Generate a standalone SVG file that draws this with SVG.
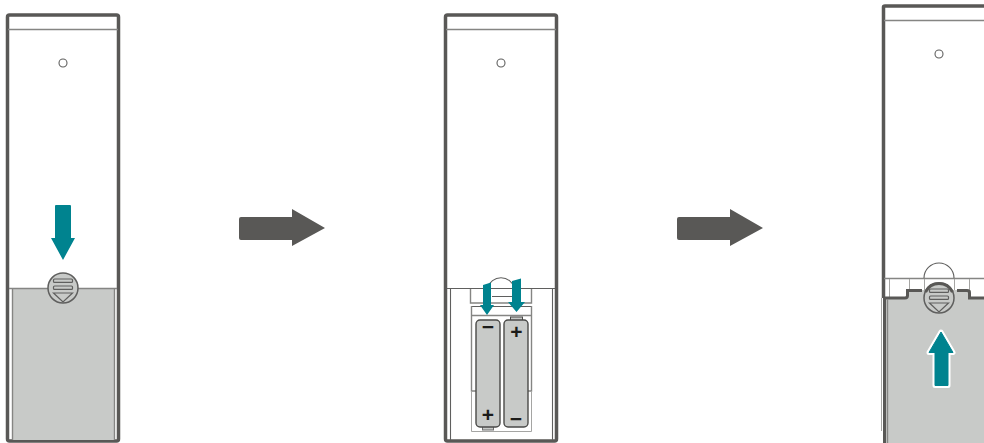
<svg xmlns="http://www.w3.org/2000/svg" width="984" height="443" viewBox="0 0 984 443">
<style>
.wall{fill:none;stroke:#595856;stroke-width:3.500;stroke-linejoin:round}
.thin{fill:none;stroke:#5f5f5e;stroke-width:1.100}
.mid{fill:none;stroke:#858583;stroke-width:1.400}
.light{fill:none;stroke:#a5a5a3;stroke-width:1}
.cover{fill:#c8cac8}
.teal{fill:#00838f}
.bat{fill:#c8cac8;stroke:#4a4a48;stroke-width:1.400}
.sign{font-family:"Liberation Sans",Arial,sans-serif;font-size:21px;font-weight:bold;fill:#1c1c1a;text-anchor:middle}
.big{fill:#595856}
.glyph{fill:none;stroke:#5f5f5e;stroke-width:1.200}
</style>
<defs>
<g id="knob">
<circle cx="0" cy="0" r="15" fill="#c8cac8" stroke="#5f5f5e" stroke-width="1.500"/>
<rect class="glyph" x="-9.500" y="-9" width="19" height="3.400" rx="1"/>
<rect class="glyph" x="-9.500" y="-2" width="19" height="3.400" rx="1"/>
<path class="glyph" d="M-9.500 5H9.500L0 14Z"/>
</g>
<path id="bigarrow" class="big" d="M241 217H292V209L325 228L292 246V240H241Q239 240 239 238V219Q239 217 241 217Z"/>
</defs>
<g id="remote-1">
<rect class="wall" x="7.500" y="15" width="111" height="426" rx="2"/>
<path class="mid" d="M8 29.500H118"/>
<circle class="thin" cx="63" cy="63" r="4"/>
<rect class="cover" x="12" y="288" width="103" height="152"/>
<path class="mid" d="M9 288.500H117M12.500 288V440M114.500 288V440"/>
<use href="#knob" x="63" y="288"/>
<path class="teal" d="M56 205H70Q71 205 71 206V238H75L63 260L51 238H55V206Q55 205 56 205Z"/>
</g>
<g id="remote-2">
<rect class="wall" x="445.500" y="15" width="111" height="426" rx="2"/>
<path class="mid" d="M446 29.500H556"/>
<circle class="thin" cx="501" cy="63" r="4"/>
<path class="thin" d="M447 288.500H555M450.500 288V440M552.500 288V440"/>
<path class="thin" d="M487.500 288A14 14 0 0 1 514.500 288"/>
<path class="mid" d="M470.500 289V303H531.500V289"/>
<path class="thin" d="M492 296.500H512M471 306.500H531"/>
<path class="mid" d="M471.500 306V391H476M531.500 306V391H527M471 315.500H531"/>
<path class="light" d="M471.500 391V431.500H531.500V391"/>
<rect x="510.500" y="317" width="12" height="4" fill="#c8cac8" stroke="#4a4a48"/>
<rect x="482.500" y="426" width="11" height="4" fill="#c8cac8" stroke="#6f6f6e"/>
<rect class="bat" x="476" y="320" width="24" height="107" rx="4"/>
<rect class="bat" x="504" y="320" width="24" height="107" rx="4"/>
<text class="sign" x="488" y="334">−</text>
<text class="sign" x="516.500" y="339">+</text>
<text class="sign" x="488" y="422">+</text>
<text class="sign" x="516" y="426">−</text>
<path class="teal" d="M483 285L491 282.500V305H494L487 315L480 305H483Z"/>
<path class="teal" d="M512 281L521 278.500V302H525L516.500 312L508 302H512Z"/>
</g>
<g id="remote-3">
<path class="wall" d="M883.500 298V7Q883.500 6 885 6H984"/>
<path class="mid" d="M884 20.500H984"/>
<circle class="thin" cx="939" cy="54" r="4"/>
<path class="mid" d="M884 278.500H984"/>
<path class="thin" d="M924 278A15 15 0 0 1 954 278"/>
<path class="light" d="M889.500 279V297M969.500 279V290M909.500 279V290M924.500 279V290M954.500 279V290"/>
<path class="light" d="M881.500 298V431"/>
<rect class="cover" x="885" y="297" width="99" height="146"/>
<path class="cover" d="M907 298V290H971V298Z"/>
<path d="M884.500 443V298H905Q907.500 298 907.500 295.500V290.500H922M957 290.500H967Q969.500 290.500 969.500 293V298H984" fill="none" stroke="#595856" stroke-width="3"/>
<path class="mid" d="M887.500 299V443"/>
<use href="#knob" x="939" y="298"/>
<path d="M925.500 292A15 15 0 0 1 952.500 292" fill="none" stroke="#595856" stroke-width="3"/>
<path d="M935 385.500V352.500H929L941 332L953 352.500H948V385.500Z" fill="#00838f" stroke="#fff" stroke-width="5" stroke-linejoin="round"/>
<path class="teal" stroke="#00838f" stroke-width="1" stroke-linejoin="round" d="M935 385.500V352.500H929L941 332L953 352.500H948V385.500Z"/>
</g>
<g id="connectors">
<use href="#bigarrow"/>
<use href="#bigarrow" x="438"/>
</g>
</svg>
